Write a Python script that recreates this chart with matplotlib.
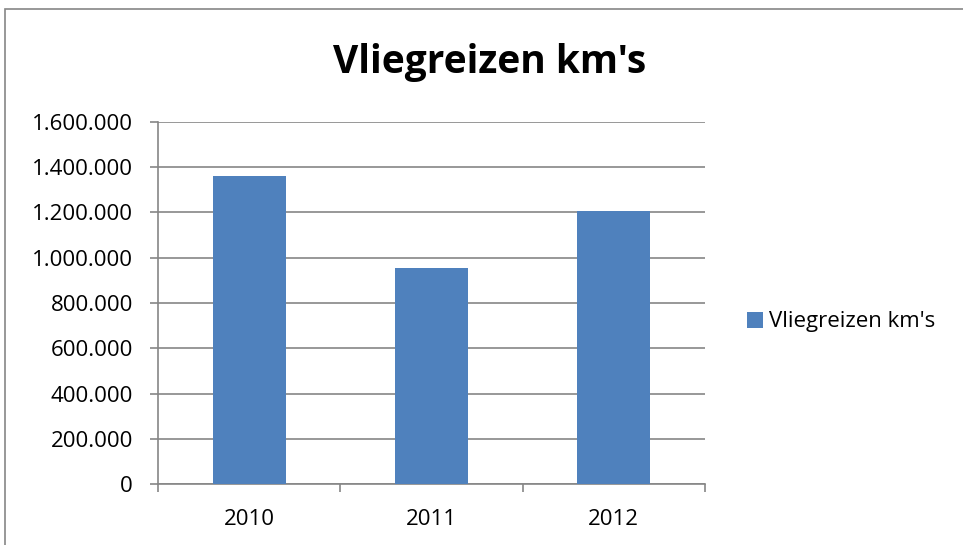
import matplotlib.pyplot as plt
from matplotlib.patches import Rectangle
from matplotlib.ticker import FuncFormatter, FixedLocator

plt.rcParams['font.family'] = ['Open Sans', 'DejaVu Sans']

years = ['2010', '2011', '2012']
km = [1360000, 955000, 1208000]
series_name = "Vliegreizen km's"

barColor = '#4f81bd'
gridColor = '#868686'


def dotThousands(v, pos):
    return f'{int(v):,}'.replace(',', '.')


fig = plt.figure(figsize=(9.63, 5.45), dpi=100)
ax = fig.add_axes([158 / 963, 1 - 484 / 545, 547 / 963, 362 / 545])

# outer chart frame
fig.patches.append(Rectangle((5 / 963, -0.1), 1.2, 1 - 9 / 545 + 0.1,
                             transform=fig.transFigure, fill=False,
                             edgecolor=gridColor, linewidth=1.2))

pos = list(range(len(years)))
ax.bar(pos, km, width=0.4, color=barColor, label=series_name, zorder=3)

ax.set_xlim(-0.5, len(years) - 0.5)
ax.set_ylim(0, 1600000)
ax.set_yticks(range(0, 1600001, 200000))
ax.yaxis.set_major_formatter(FuncFormatter(dotThousands))
ax.set_xticks(pos)
ax.set_xticklabels(years)
ax.xaxis.set_minor_locator(FixedLocator([-0.5, 0.5, 1.5, 2.5]))
ax.tick_params(axis='x', which='major', length=0, pad=18, labelsize=16)
ax.tick_params(axis='x', which='minor', length=6, color=gridColor, width=1.2)
ax.tick_params(axis='y', length=6, color=gridColor, width=1.2, labelsize=16, pad=12)

ax.grid(True, axis='y', color=gridColor, linewidth=1.2, zorder=0)
for side in ['top', 'right']:
    ax.spines[side].set_visible(False)
for side in ['left', 'bottom']:
    ax.spines[side].set_color(gridColor)
    ax.spines[side].set_linewidth(1.2)

fig.text(490 / 963, 1 - 62 / 545, series_name, ha='center', va='center',
         fontsize=28, fontweight='bold')

ax.legend(loc='center left', bbox_to_anchor=(727 / 963, 1 - 322 / 545),
          bbox_transform=fig.transFigure, frameon=False, fontsize=16,
          handlelength=0.7, handleheight=0.7, handletextpad=0.3)

fig.savefig('out.png', dpi=100)
